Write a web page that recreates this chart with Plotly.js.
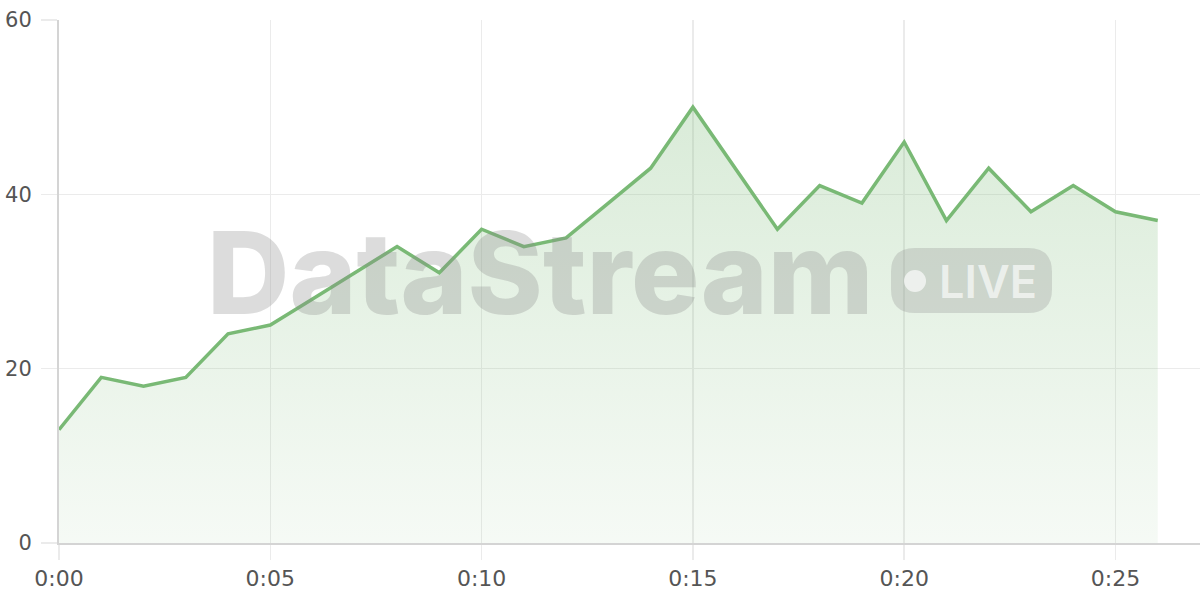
<!DOCTYPE html>
<html>
<head>
<meta charset="utf-8">
<script src="https://cdn.plot.ly/plotly-3.0.1.min.js"></script>
<style>
html,body{margin:0;padding:0;background:#fff;}
#chart{width:1200px;height:600px;}
</style>
</head>
<body>
<div id="chart"></div>
<script>
const minutes = [0,1,2,3,4,5,6,7,8,9,10,11,12,13,14,15,16,17,18,19,20,21,22,23,24,25,26];
const values = [13,19,18,19,24,25,28,31,34,31,36,34,35,39,43,50,43,36,41,39,46,37,43,38,41,38,37];
const tickVals = [0,5,10,15,20,25];
const tickText = ['0:00','0:05','0:10','0:15','0:20','0:25'];
const yTicks = [0,20,40,60];
const watermark = 'DataStream';
const badgeText = 'LIVE';

const L = 59, R = 1200, T = 20, B = 543;
const px = x => (x - L) / (R - L);
const py = y => (B - y) / (B - T);

function roundRect(x0, y0, x1, y1, r) {
  const X = v => px(v).toFixed(5), Y = v => py(v).toFixed(5);
  return `M${X(x0+r)},${Y(y0)} L${X(x1-r)},${Y(y0)} Q${X(x1)},${Y(y0)} ${X(x1)},${Y(y0+r)} ` +
    `L${X(x1)},${Y(y1-r)} Q${X(x1)},${Y(y1)} ${X(x1-r)},${Y(y1)} L${X(x0+r)},${Y(y1)} ` +
    `Q${X(x0)},${Y(y1)} ${X(x0)},${Y(y1-r)} L${X(x0)},${Y(y0+r)} Q${X(x0)},${Y(y0)} ${X(x0+r)},${Y(y0)} Z`;
}

const trace = {
  x: minutes, y: values, type: 'scatter', mode: 'lines',
  line: {color: '#79b975', width: 3.5},
  fill: 'tozeroy',
  fillgradient: {type: 'vertical', start: 0, stop: 50,
    colorscale: [[0, 'rgba(121,185,117,0.07)'], [1, 'rgba(121,185,117,0.28)']]},
  hoverinfo: 'skip'
};

const layout = {
  width: 1200, height: 600,
  margin: {l: L, r: 0, t: T, b: 600 - B},
  paper_bgcolor: '#ffffff', plot_bgcolor: '#ffffff',
  showlegend: false,
  font: {family: '"DejaVu Sans", sans-serif', color: '#555'},
  xaxis: {
    range: [0, 27], tickvals: tickVals, ticktext: tickText,
    showgrid: true, gridcolor: '#ebebeb', gridwidth: 1.5,
    zeroline: false, showline: true, linecolor: '#d4d4d4', linewidth: 2,
    ticks: 'outside', ticklen: 15, tickcolor: '#ebebeb', tickwidth: 1.5,
    tickfont: {family: '"DejaVu Sans", sans-serif', size: 22, color: '#555'}
  },
  yaxis: {
    range: [0, 60], tickvals: yTicks,
    showgrid: true, gridcolor: '#ebebeb', gridwidth: 1.5,
    zeroline: false, showline: true, linecolor: '#d4d4d4', linewidth: 2,
    ticks: 'outside', ticklen: 16, tickcolor: '#ebebeb', tickwidth: 1.5,
    ticklabelstandoff: 5,
    tickfont: {family: '"DejaVu Sans", sans-serif', size: 21, color: '#555'}
  },
  shapes: [
    {type: 'path', xref: 'paper', yref: 'paper', layer: 'above',
     path: roundRect(891, 248, 1052, 313, 24),
     fillcolor: 'rgba(140,140,140,0.28)', line: {width: 0}},
    {type: 'circle', xref: 'paper', yref: 'paper', layer: 'above',
     x0: px(904), x1: px(926), y0: py(292), y1: py(270),
     fillcolor: 'rgba(255,255,255,0.65)', line: {width: 0}}
  ],
  annotations: [
    {text: watermark, xref: 'paper', yref: 'paper', x: px(540), y: py(272),
     xanchor: 'center', yanchor: 'middle', showarrow: false,
     font: {family: 'Inter, sans-serif', size: 114, weight: 800, color: 'rgba(140,140,140,0.3)'}},
    {text: badgeText, xref: 'paper', yref: 'paper', x: px(988), y: py(281),
     xanchor: 'center', yanchor: 'middle', showarrow: false,
     font: {family: 'Inter, sans-serif', size: 45, weight: 600, color: 'rgba(255,255,255,0.65)'}}
  ]
};

Plotly.newPlot('chart', [trace], layout, {displayModeBar: false, staticPlot: true});
</script>
</body>
</html>
